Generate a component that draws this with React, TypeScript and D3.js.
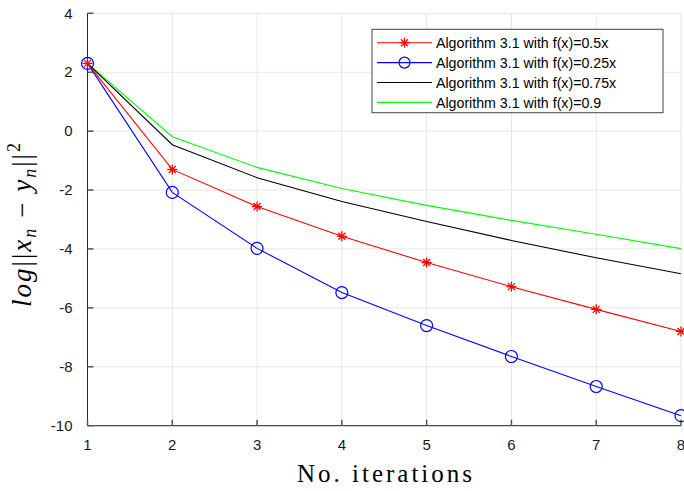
import React from 'react';
import * as d3 from 'd3';

const iterations = [1, 2, 3, 4, 5, 6, 7, 8];
const half = [2.3, -1.3, -2.56, -3.57, -4.46, -5.28, -6.05, -6.8];
const quarter = [2.3, -2.08, -3.98, -5.48, -6.6, -7.65, -8.67, -9.66];
const threeQuarter = [2.3, -0.46, -1.58, -2.39, -3.07, -3.71, -4.3, -4.84];
const constant = [2.3, -0.19, -1.23, -1.95, -2.52, -3.03, -3.5, -3.99];
const yTicks = [4, 2, 0, -2, -4, -6, -8, -10];
const labels = [
  'Algorithm 3.1 with f(x)=0.5x',
  'Algorithm 3.1 with f(x)=0.25x',
  'Algorithm 3.1 with f(x)=0.75x',
  'Algorithm 3.1 with f(x)=0.9',
];

const width = 684;
const height = 491;

const series = [
  { values: half, color: '#ff0000', marker: 'star' },
  { values: quarter, color: '#0000ff', marker: 'circle' },
  { values: threeQuarter, color: '#000000', marker: 'none' },
  { values: constant, color: '#00ff00', marker: 'none' },
];

function Star({ x, y, color }: { x: number; y: number; color: string }) {
  const r = 5;
  return (
    <g stroke={color} strokeWidth={1.3}>
      <line x1={x - r} y1={y} x2={x + r} y2={y} />
      <line x1={x} y1={y - r} x2={x} y2={y + r} />
      <line x1={x - r * 0.7} y1={y - r * 0.7} x2={x + r * 0.7} y2={y + r * 0.7} />
      <line x1={x - r * 0.7} y1={y + r * 0.7} x2={x + r * 0.7} y2={y - r * 0.7} />
    </g>
  );
}

export default function App() {
  const x = d3.scaleLinear().domain([1, 8]).range([87.5, 681]);
  const y = d3.scaleLinear().domain([-10, 4]).range([425.7, 13.3]);

  const line = d3
    .line<number>()
    .x((d, i) => x(iterations[i]))
    .y((d) => y(d));

  const tickFont = 'Liberation Sans, Arial, sans-serif';
  const serif = 'Liberation Serif, Times New Roman, serif';

  return (
    <svg width={width} height={height} style={{ position: 'absolute', left: 0, top: 0, background: '#fff' }}>
      {/* grid */}
      {iterations.map((t) => (
        <line key={'gx' + t} x1={x(t)} x2={x(t)} y1={y(4)} y2={y(-10)} stroke="#e6e6e6" />
      ))}
      {yTicks.map((t) => (
        <line key={'gy' + t} x1={x(1)} x2={x(8)} y1={y(t)} y2={y(t)} stroke="#e6e6e6" />
      ))}

      {/* axes */}
      <line x1={x(1)} x2={x(1)} y1={y(4)} y2={y(-10)} stroke="#262626" />
      <line x1={x(1)} x2={x(8)} y1={y(-10)} y2={y(-10)} stroke="#262626" />
      {yTicks.map((t) => (
        <g key={'ty' + t}>
          <line x1={x(1)} x2={x(1) + 6} y1={y(t)} y2={y(t)} stroke="#555" strokeWidth={1.5} />
          <text x={x(1) - 15} y={y(t)} dy="0.35em" textAnchor="end" fontFamily={tickFont} fontSize={15} fill="#1a1a1a">
            {t}
          </text>
        </g>
      ))}
      {iterations.map((t) => (
        <g key={'tx' + t}>
          <line x1={x(t)} x2={x(t)} y1={y(-10)} y2={y(-10) - 6} stroke="#555" strokeWidth={1.5} />
          <text x={x(t)} y={y(-10) + 24} textAnchor="middle" fontFamily={tickFont} fontSize={15} fill="#1a1a1a">
            {t}
          </text>
        </g>
      ))}

      {/* lines */}
      {series.map((s, k) => (
        <path key={'l' + k} d={line(s.values) ?? ''} fill="none" stroke={s.color} strokeWidth={1.1} />
      )).reverse()}
      {series.map((s, k) =>
        s.values.map((v, i) =>
          s.marker === 'star' ? (
            <Star key={'m' + k + i} x={x(iterations[i])} y={y(v)} color={s.color} />
          ) : s.marker === 'circle' ? (
            <circle key={'m' + k + i} cx={x(iterations[i])} cy={y(v)} r={6} fill="none" stroke={s.color} strokeWidth={1.2} />
          ) : null
        )
      ).reverse()}

      {/* legend */}
      <rect x={372} y={29.3} width={291} height={83.4} fill="#fff" stroke="#444" strokeWidth={1} />
      {series.map((s, k) => {
        const ly = 42.7 + k * 19.9;
        return (
          <g key={'lg' + k}>
            <line x1={377} x2={432} y1={ly} y2={ly} stroke={s.color} strokeWidth={1.1} />
            {s.marker === 'star' && <Star x={404.5} y={ly} color={s.color} />}
            {s.marker === 'circle' && (
              <circle cx={404.5} cy={ly} r={5.5} fill="none" stroke={s.color} strokeWidth={1.2} />
            )}
            <text x={436} y={ly} dy="0.36em" fontFamily={tickFont} fontSize={14.2} fill="#000">
              {labels[k]}
            </text>
          </g>
        );
      })}

      {/* axis labels */}
      <text
        x={297}
        y={482}
        textLength={175}
        lengthAdjust="spacing"
        fontFamily={serif}
        fontSize={25}
        fill="#000"
      >
        No. iterations
      </text>
      <text
        transform={`translate(31, 307) rotate(-90)`}
        textLength={164}
        lengthAdjust="spacing"
        fontFamily={serif}
        fontSize={27}
        fill="#000"
      >
        <tspan fontStyle="italic">log</tspan>
        <tspan>||</tspan>
        <tspan fontStyle="italic">x</tspan>
        <tspan fontStyle="italic" fontSize={18} dy={5}>n</tspan>
        <tspan dy={-5}> − </tspan>
        <tspan fontStyle="italic">y</tspan>
        <tspan fontStyle="italic" fontSize={18} dy={5}>n</tspan>
        <tspan dy={-5}>||</tspan>
        <tspan fontSize={18} dy={-11}>2</tspan>
      </text>
    </svg>
  );
}
